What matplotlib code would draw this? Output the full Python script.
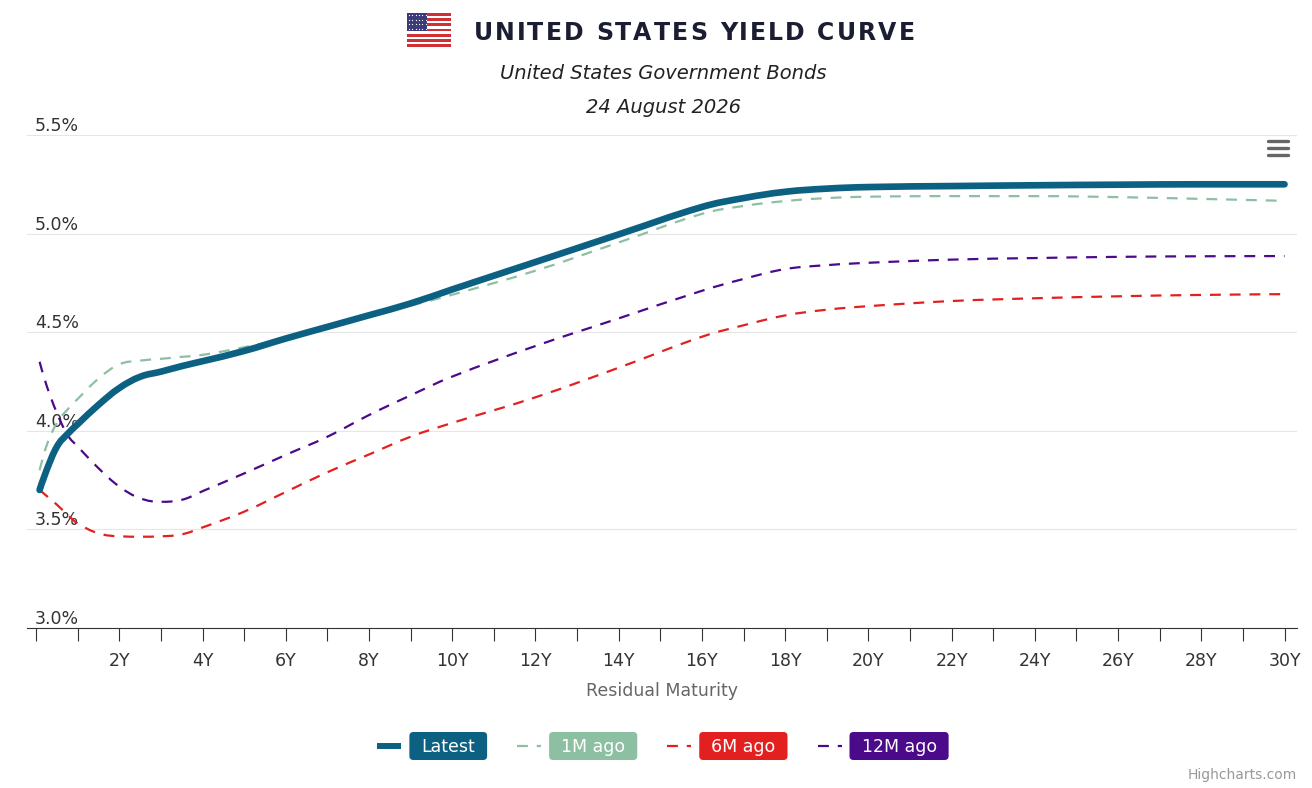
import matplotlib

matplotlib.use("Agg")
import matplotlib.pyplot as plt
from matplotlib.font_manager import FontProperties
from matplotlib.patches import FancyBboxPatch, PathPatch, Rectangle
from matplotlib.path import Path
from matplotlib.transforms import blended_transform_factory, offset_copy

W, H = 1312, 788
DPI = 100

# residual maturity in years, yields in %
MATURITIES = [0.083, 0.25, 0.5, 0.75, 1, 1.5, 2, 2.5, 3, 3.5, 4, 5, 6, 7, 8, 9, 10,
              12, 14, 16, 17, 18, 19, 20, 22, 24, 26, 28, 30]
LATEST = [3.70, 3.80, 3.92, 3.983, 4.034, 4.132, 4.217, 4.274, 4.30, 4.328, 4.353,
          4.405, 4.468, 4.527, 4.586, 4.646, 4.717, 4.856, 4.996, 5.135, 5.18, 5.212,
          5.228, 5.236, 5.241, 5.245, 5.248, 5.25, 5.25]
AGO_1M = [3.80, 3.925, 4.04, 4.107, 4.162, 4.265, 4.337, 4.356, 4.365, 4.375, 4.385,
          4.424, 4.47, 4.52, 4.58, 4.635, 4.69, 4.812, 4.955, 5.10, 5.14, 5.165,
          5.18, 5.187, 5.19, 5.19, 5.185, 5.176, 5.166]
AGO_6M = [3.70, 3.67, 3.625, 3.575, 3.53, 3.48, 3.465, 3.463, 3.465, 3.475, 3.51,
          3.59, 3.69, 3.79, 3.88, 3.97, 4.04, 4.17, 4.32, 4.477, 4.535, 4.585,
          4.614, 4.632, 4.658, 4.672, 4.682, 4.689, 4.693]
AGO_12M = [4.35, 4.23, 4.09, 3.98, 3.92, 3.81, 3.717, 3.658, 3.64, 3.65, 3.694,
           3.784, 3.878, 3.97, 4.08, 4.18, 4.275, 4.43, 4.57, 4.71, 4.77, 4.82,
           4.84, 4.852, 4.868, 4.876, 4.882, 4.885, 4.886]

DASH = (4.9, 4.0)
SERIES = [
    ("Latest", LATEST, "#0c6183", 4.8, None),
    ("1M ago", AGO_1M, "#8dbfa3", 1.6, DASH),
    ("6M ago", AGO_6M, "#e2201f", 1.6, DASH),
    ("12M ago", AGO_12M, "#4b0a8a", 1.6, DASH),
]
Y_TICKS = [3.0, 3.5, 4.0, 4.5, 5.0, 5.5]
X_TICKS = list(range(0, 31))
X_LABELS = [f"{y}Y" if y and y % 2 == 0 else "" for y in X_TICKS]

FONT = "DejaVu Sans"
TEXT_COLOR = "#333333"


def spline_path(xs, ys, smoothing=1.5):
    """Bezier path through the points, built the way a Highcharts spline is."""
    n = len(xs)
    left = [(xs[i], ys[i]) for i in range(n)]
    right = [(xs[i], ys[i]) for i in range(n)]
    denom = smoothing + 1
    for i in range(1, n - 1):
        px, py = xs[i], ys[i]
        lx, ly = xs[i - 1], ys[i - 1]
        nx, ny = xs[i + 1], ys[i + 1]
        lcx = (smoothing * px + lx) / denom
        lcy = (smoothing * py + ly) / denom
        rcx = (smoothing * px + nx) / denom
        rcy = (smoothing * py + ny) / denom
        if rcx != lcx:
            corr = (rcy - lcy) * (rcx - px) / (rcx - lcx) + py - rcy
            lcy += corr
            rcy += corr
        if lcy > max(ly, py):
            lcy = max(ly, py)
            rcy = 2 * py - lcy
        elif lcy < min(ly, py):
            lcy = min(ly, py)
            rcy = 2 * py - lcy
        if rcy > max(py, ny):
            rcy = max(py, ny)
            lcy = 2 * py - rcy
        elif rcy < min(py, ny):
            rcy = min(py, ny)
            lcy = 2 * py - rcy
        left[i] = (lcx, lcy)
        right[i] = (rcx, rcy)
    verts = [(xs[0], ys[0])]
    codes = [Path.MOVETO]
    for i in range(1, n):
        verts += [right[i - 1], left[i], (xs[i], ys[i])]
        codes += [Path.CURVE4] * 3
    return Path(verts, codes)


def main() -> None:
    fig = plt.figure(figsize=(W / DPI, H / DPI), dpi=DPI)
    fig.patch.set_facecolor("white")

    # plot area, measured in pixels from the top-left corner
    left, right, top, bottom = 27, 1297, 135, 628
    ax = fig.add_axes([left / W, 1 - bottom / H, (right - left) / W, (bottom - top) / H])
    ax.set_xlim(-0.22, 30.3)
    ax.set_ylim(3.0, 5.5)
    for side in ("top", "right", "left"):
        ax.spines[side].set_visible(False)
    ax.spines["bottom"].set_color(TEXT_COLOR)
    ax.spines["bottom"].set_linewidth(0.8)

    ax.set_yticks(Y_TICKS)
    ax.tick_params(axis="y", left=False, labelleft=False)
    ax.grid(axis="y", color="#e6e6e6", linewidth=0.8, zorder=0)
    ax.set_xticks(X_TICKS)
    ax.set_xticklabels(X_LABELS, fontsize=12.5, color=TEXT_COLOR, family=FONT)
    ax.tick_params(axis="x", length=9, width=0.8, color=TEXT_COLOR, pad=8)

    label_trans = offset_copy(
        blended_transform_factory(ax.transAxes, ax.transData),
        fig=fig, x=8, y=4, units="dots",
    )
    for value in Y_TICKS:
        ax.text(0, value, f"{value:.1f}%", transform=label_trans, ha="left",
                va="baseline", fontsize=12.5, color=TEXT_COLOR, family=FONT, zorder=1)

    for name, values, color, width, dashes in SERIES:
        patch = PathPatch(spline_path(MATURITIES, values), fill=False, edgecolor=color,
                          linewidth=width, capstyle="round", joinstyle="round",
                          zorder=3, transform=ax.transData)
        if dashes:
            patch.set_linestyle((0, dashes))
            patch.set_capstyle("butt")
            patch.set_zorder(2)
        ax.add_patch(patch)

    ax.set_xlabel("Residual Maturity", fontsize=12.5, color="#666666", family=FONT,
                  labelpad=9)

    # overlay in pixel coordinates for titles, flag, legend and menu icon
    ov = fig.add_axes([0, 0, 1, 1], zorder=5)
    ov.set_xlim(0, W)
    ov.set_ylim(H, 0)
    ov.axis("off")
    ov.patch.set_alpha(0)

    renderer = fig.canvas.get_renderer()

    def text_width(s, fp):
        w, _, _ = renderer.get_text_width_height_descent(s, fp, ismath=False)
        return w

    title_fp = FontProperties(family=FONT, weight="bold", size=17)
    title = "UNITED STATES YIELD CURVE"
    spacing = 2.1
    hh = text_width("HH", title_fp)
    widths = [text_width("H" + ch + "H", title_fp) - hh for ch in title]
    total = sum(widths) + spacing * (len(title) - 1)
    x = 694 - total / 2
    for ch, w in zip(title, widths):
        ov.text(x, 40, ch, fontproperties=title_fp, color="#1b1e33", ha="left",
                va="baseline")
        x += w + spacing

    # US flag
    fx, fy, fw, fh = 407, 13, 44, 34
    stripe = fh / 13
    for i in range(13):
        ov.add_patch(Rectangle((fx, fy + i * stripe), fw, stripe,
                               color="#d22f35" if i % 2 == 0 else "white", lw=0))
    ov.add_patch(Rectangle((fx, fy), 20, stripe * 7, color="#3c3b7a", lw=0))
    for r in range(5):
        for c in range(6):
            ov.plot(fx + 2 + c * 3.3, fy + 2.3 + r * 4.4, "o", ms=0.9, color="white",
                    mew=0)

    ov.text(663, 79, "United States Government Bonds", fontsize=14, style="italic",
            family=FONT, color="#222222", ha="center", va="baseline")
    ov.text(663, 113, "24 August 2026", fontsize=14, style="italic", family=FONT,
            color="#222222", ha="center", va="baseline")

    # menu icon
    for yy in (141, 148, 155):
        ov.plot([1268, 1288], [yy, yy], color="#666666", lw=2.4,
                solid_capstyle="round")

    # legend
    legend_fp = FontProperties(family=FONT, size=12.5)
    sample, sample_gap, box_pad, item_gap = 24, 8, 12, 30
    items = []
    for name, values, color, width, dashes in SERIES:
        tw = text_width(name, legend_fp)
        items.append((name, color, width, dashes, tw))
    total = sum(sample + sample_gap + tw + 2 * box_pad for *_, tw in items)
    total += item_gap * (len(items) - 1)
    x = 663 - total / 2
    cy = 746
    for name, color, width, dashes, tw in items:
        line, = ov.plot([x, x + sample], [cy, cy], color=color,
                        lw=4.3 if dashes is None else width, solid_capstyle="butt")
        if dashes:
            line.set_dashes(dashes)
            line.set_dash_capstyle("butt")
        bx = x + sample + sample_gap
        bw = tw + 2 * box_pad
        ov.add_patch(FancyBboxPatch((bx, cy - 14), bw, 28,
                                    boxstyle="round,pad=0,rounding_size=4",
                                    fc=color, ec=color, lw=0))
        ov.text(bx + bw / 2, cy + 1, name, fontproperties=legend_fp, color="white",
                ha="center", va="center")
        x = bx + bw + item_gap

    ov.text(1297, 779, "Highcharts.com", fontsize=10, family=FONT, color="#999999",
            ha="right", va="baseline")

    fig.savefig("out.png", dpi=DPI)
    plt.close(fig)


if __name__ == "__main__":
    main()
